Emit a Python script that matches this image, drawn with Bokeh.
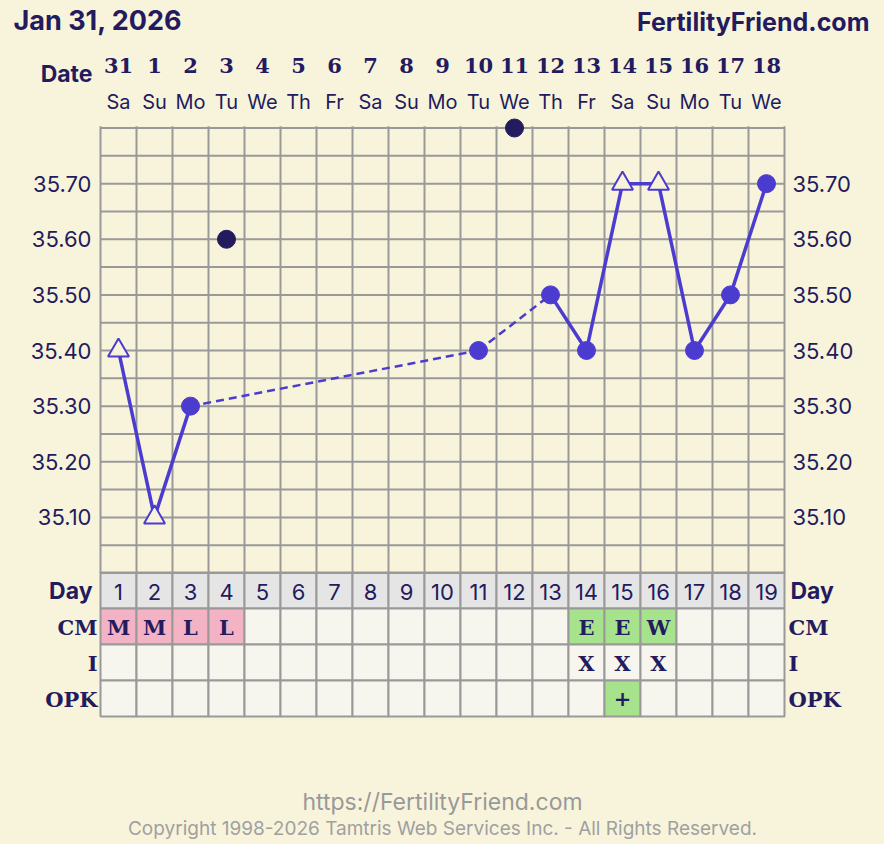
from bokeh.plotting import figure
from bokeh.models import Range1d
from bokeh.core.properties import value
from bokeh.embed import file_html
from bokeh.resources import INLINE

# ---------------- data ----------------
title_text = "Jan 31, 2026"
site_text = "FertilityFriend.com"
footer_url = "https://FertilityFriend.com"
footer_copy = "Copyright 1998-2026 Tamtris Web Services Inc. - All Rights Reserved."

days = list(range(1, 20))
dates = ["31", "1", "2", "3", "4", "5", "6", "7", "8", "9", "10", "11", "12",
         "13", "14", "15", "16", "17", "18"]
weekdays = ["Sa", "Su", "Mo", "Tu", "We", "Th", "Fr", "Sa", "Su", "Mo", "Tu",
            "We", "Th", "Fr", "Sa", "Su", "Mo", "Tu", "We"]
temps = [35.40, 35.10, 35.30, 35.60, None, None, None, None, None, None,
         35.40, 35.80, 35.50, 35.40, 35.70, 35.70, 35.40, 35.50, 35.70]
discarded = [False, False, False, True, False, False, False, False, False, False,
             False, True, False, False, False, False, False, False, False]
markers = ["triangle", "triangle", "circle", "circle", "", "", "", "", "", "",
           "circle", "circle", "circle", "circle", "triangle", "triangle",
           "circle", "circle", "circle"]
cm_codes = ["M", "M", "L", "L", "", "", "", "", "", "", "", "", "",
            "E", "E", "W", "", "", ""]
intercourse = ["", "", "", "", "", "", "", "", "", "", "", "", "",
               "X", "X", "X", "", "", ""]
opk = ["", "", "", "", "", "", "", "", "", "", "", "", "",
       "", "+", "", "", "", ""]
y_ticks = [35.10, 35.20, 35.30, 35.40, 35.50, 35.60, 35.70]
y_min, y_max, y_step = 35.00, 35.80, 0.05

# ---------------- style ----------------
BG = "#f8f4dc"
NAVY = "#231b5e"
LINE = "#4b3bcf"
GRID = "#999999"
CELL = "#f6f6ef"
HEAD = "#e5e5e5"
PINK = "#f3b3c5"
GREEN = "#a6e38c"
SANS = "Inter"
SLAB = "DejaVu Serif"

W, H = 884, 844
px_per_day = 36.0
x0_fig = 82.0  # x of day 0 centre
px_per_deg = 556.25
top_temp_fig = 127.5  # y of y_max

x_lo = -x0_fig / px_per_day
x_hi = (W - x0_fig) / px_per_day
y_hi = y_max + top_temp_fig / px_per_deg
y_lo = y_max - (H - top_temp_fig) / px_per_deg

p = figure(width=W, height=H, x_range=Range1d(x_lo, x_hi), y_range=Range1d(y_lo, y_hi),
           output_backend="svg", toolbar_location=None, min_border=0,
           x_axis_location=None, y_axis_location=None,
           background_fill_color=BG, border_fill_color=BG, outline_line_color=None)
p.grid.visible = False
p.extra_x_ranges = {"px": Range1d(0, W)}
p.extra_y_ranges = {"px": Range1d(H, 0)}

# ---------------- table ----------------
row_day, row_cm, row_i, row_opk = 590, 626, 662, 698
cm_fill = [PINK if c in ("M", "L") else GREEN if c in ("E", "W") else CELL for c in cm_codes]
opk_fill = [GREEN if o == "+" else CELL for o in opk]
common_rect = dict(width=1, height=36, y_range_name="px", line_color=GRID, line_width=2)
p.rect(x=days, y=[row_day] * len(days), fill_color=HEAD, **common_rect)
p.rect(x=days, y=[row_cm] * len(days), fill_color=cm_fill, **common_rect)
p.rect(x=days, y=[row_i] * len(days), fill_color=CELL, **common_rect)
p.rect(x=days, y=[row_opk] * len(days), fill_color=opk_fill, **common_rect)

p.text(x=days, y=[row_day + 1] * len(days), text=[str(d) for d in days], y_range_name="px",
       text_align="center", text_baseline="middle", text_font=value(SANS),
       text_font_size="22px", text_font_style="normal", text_color=NAVY)
slab_kw = dict(y_range_name="px", text_align="center", text_baseline="middle",
               text_font=value(SLAB), text_font_size="21px", text_font_style="bold",
               text_color=NAVY)
p.text(x=days, y=[row_cm + 1] * len(days), text=cm_codes, **slab_kw)
p.text(x=days, y=[row_i + 1] * len(days), text=intercourse, **slab_kw)
p.text(x=days, y=[row_opk] * len(days), text=opk, **slab_kw)

# ---------------- grid ----------------
n_h = int(round((y_max - y_min) / y_step))
hl = [round(y_min + i * y_step, 2) for i in range(n_h + 1)]
p.segment(x0=[0.5] * len(hl), x1=[19.5] * len(hl), y0=hl, y1=hl,
          line_color=GRID, line_width=2)
vx = [d - 0.5 for d in days] + [19.5]
p.segment(x0=vx, x1=vx, y0=[y_min] * len(vx), y1=[y_max + 0.003] * len(vx),
          line_color=GRID, line_width=2)

# ---------------- data lines ----------------
valid = [(d, t) for d, t, dis in zip(days, temps, discarded) if t is not None and not dis]
sx0, sx1, sy0, sy1 = [], [], [], []
dx0, dx1, dy0, dy1 = [], [], [], []
for (da, ta), (db, tb) in zip(valid[:-1], valid[1:]):
    if db - da == 1:
        sx0.append(da); sx1.append(db); sy0.append(ta); sy1.append(tb)
    else:
        dx0.append(da); dx1.append(db); dy0.append(ta); dy1.append(tb)
p.segment(x0=sx0, x1=sx1, y0=sy0, y1=sy1, line_color=LINE, line_width=3.5)
p.segment(x0=dx0, x1=dx1, y0=dy0, y1=dy1, line_color=LINE, line_width=2.5, line_dash="8 5")

cx = [d for d, t, dis, m in zip(days, temps, discarded, markers) if t is not None and not dis and m == "circle"]
cy = [t for d, t, dis, m in zip(days, temps, discarded, markers) if t is not None and not dis and m == "circle"]
tx = [d for d, t, dis, m in zip(days, temps, discarded, markers) if t is not None and not dis and m == "triangle"]
ty = [t for d, t, dis, m in zip(days, temps, discarded, markers) if t is not None and not dis and m == "triangle"]
qx = [d for d, t, dis in zip(days, temps, discarded) if t is not None and dis]
qy = [t for d, t, dis in zip(days, temps, discarded) if t is not None and dis]
p.scatter(x=cx, y=cy, marker="circle", size=18, fill_color=LINE, line_color=LINE)
p.scatter(x=tx, y=ty, marker="triangle", size=21, fill_color=BG, line_color=LINE, line_width=2)
p.scatter(x=qx, y=qy, marker="circle", size=18, fill_color=NAVY, line_color=NAVY)

# ---------------- header ----------------
p.text(x=[13], y=[20], text=[title_text], x_range_name="px", y_range_name="px",
       text_align="left", text_baseline="middle", text_font=value(SANS),
       text_font_size="27px", text_font_style="bold", text_color=NAVY)
p.text(x=[869], y=[21], text=[site_text], x_range_name="px", y_range_name="px",
       text_align="right", text_baseline="middle", text_font=value(SANS),
       text_font_size="25px", text_font_style="bold", text_color=NAVY)
p.text(x=[92], y=[73], text=["Date"], x_range_name="px", y_range_name="px",
       text_align="right", text_baseline="middle", text_font=value(SANS),
       text_font_size="23px", text_font_style="bold", text_color=NAVY)
p.text(x=days, y=[65] * len(days), text=dates, y_range_name="px",
       text_align="center", text_baseline="middle", text_font=value(SLAB),
       text_font_size="21px", text_font_style="bold", text_color=NAVY)
p.text(x=days, y=[101] * len(days), text=weekdays, y_range_name="px",
       text_align="center", text_baseline="middle", text_font=value(SANS),
       text_font_size="20px", text_font_style="normal", text_color=NAVY)

# ---------------- y tick labels ----------------
tick_txt = ["%.2f" % t for t in y_ticks]
p.text(x=[91] * len(y_ticks), y=y_ticks, text=tick_txt, x_range_name="px",
       text_align="right", text_baseline="middle", text_font=value(SANS),
       text_font_size="22px", text_color=NAVY)
p.text(x=[792] * len(y_ticks), y=y_ticks, text=tick_txt, x_range_name="px",
       text_align="left", text_baseline="middle", text_font=value(SANS),
       text_font_size="22px", text_color=NAVY)

# ---------------- row labels ----------------
p.text(x=[92, 790], y=[row_day, row_day], text=["Day", "Day"], x_range_name="px",
       y_range_name="px", text_align=["right", "left"], text_baseline="middle",
       text_font=value(SANS), text_font_size="23px", text_font_style="bold", text_color=NAVY)
row_names = ["CM", "I", "OPK"]
row_ys = [row_cm + 1, row_i + 1, row_opk + 1]
p.text(x=[97] * 3, y=row_ys, text=row_names, x_range_name="px", y_range_name="px",
       text_align="right", text_baseline="middle", text_font=value(SLAB),
       text_font_size="21px", text_font_style="bold", text_color=NAVY)
p.text(x=[788] * 3, y=row_ys, text=row_names, x_range_name="px", y_range_name="px",
       text_align="left", text_baseline="middle", text_font=value(SLAB),
       text_font_size="21px", text_font_style="bold", text_color=NAVY)

# ---------------- footer ----------------
p.text(x=[442], y=[801], text=[footer_url], x_range_name="px", y_range_name="px",
       text_align="center", text_baseline="middle", text_font=value(SANS),
       text_font_size="23px", text_color="#999999")
p.text(x=[442], y=[828], text=[footer_copy], x_range_name="px", y_range_name="px",
       text_align="center", text_baseline="middle", text_font=value(SANS),
       text_font_size="19px", text_color="#a0a0a0")

html = file_html(p, INLINE)
html = html.replace("</head>",
                    "<style>html,body{margin:0;padding:0;background:%s;}</style></head>" % BG, 1)
open("out.html", "w").write(html)
